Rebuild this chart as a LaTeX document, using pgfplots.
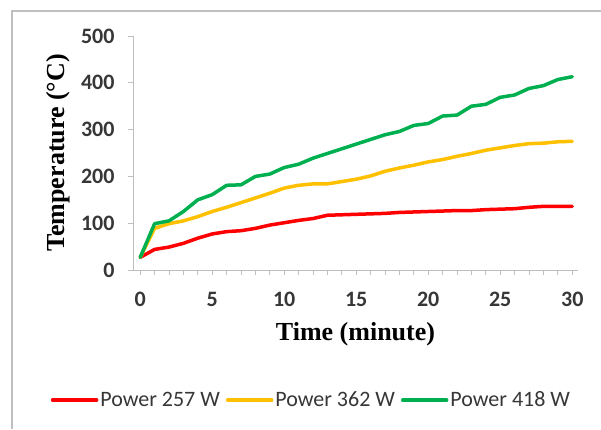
\documentclass[border=0pt]{standalone}
\usepackage{pgfplots}
\pgfplotsset{compat=1.18}
\usepackage{fontspec}
\setmainfont{Liberation Serif}
\newfontfamily\carlito{Carlito}
\definecolor{cRed}{RGB}{255,0,0}
\definecolor{cYel}{RGB}{255,192,0}
\definecolor{cGrn}{RGB}{0,176,80}
\definecolor{axgray}{RGB}{191,191,191}
\definecolor{lblgray}{RGB}{55,55,55}
\begin{document}
\begin{tikzpicture}[x=1pt,y=1pt]
\useasboundingbox (0,0) rectangle (601,429);
\fill[white] (0,0) rectangle (601,429);
\draw[axgray, line width=1.5pt] (12,0) -- (12,418) -- (601,418);
\begin{axis}[
  at={(133pt,159pt)}, anchor=south west,
  scale only axis, width=445pt, height=234pt,
  xmin=-0.5, xmax=30.4, ymin=0, ymax=500,
  axis x line=bottom, axis y line=left,
  axis line style={draw=axgray, line width=1pt, -},
  xtick={0,5,...,30}, minor xtick={0,...,30}, ytick={0,100,...,500},
  tick align=outside, major tick length=5pt, minor tick length=5pt,
  tick style={draw=axgray, line width=0.8pt},
  /pgf/number format/assume math mode=true,
  ticklabel style={font=\carlito\bfseries\fontsize{22}{22}\selectfont, text=lblgray},
  xticklabel style={yshift=-14pt},
  yticklabel style={xshift=-10pt},
  xlabel={Time (minute)},
  ylabel={Temperature (\textdegree C)},
  xlabel style={font=\bfseries\fontsize{26}{26}\selectfont, at={(axis description cs:0.5,-0.275)}, anchor=center},
  ylabel style={font=\bfseries\fontsize{26}{26}\selectfont, at={(axis description cs:-0.1674,0.5)}, anchor=center},
  legend columns=3,
  legend style={at={(axis description cs:0.401,-0.556)}, anchor=center, draw=none, fill=none,
    font=\carlito\fontsize{22}{22}\selectfont, text=lblgray, nodes={inner sep=2pt},
    /tikz/every even column/.append style={column sep=4pt}},
  legend image code/.code={\draw[#1] (0pt,0pt) -- (44pt,0pt);},
  every axis plot/.append style={line width=3.5pt, line join=round, line cap=round},
]
\addplot[cRed] coordinates {
(0,27)(1,44)(2,49)(3,57)(4,68)(5,77)(6,82)(7,84)(8,89)(9,96)(10,101)
(11,106)(12,110)(13,117)(14,118)(15,119)(16,120)(17,121)(18,123)(19,124)(20,125)
(21,126)(22,127)(23,127)(24,129)(25,130)(26,131)(27,134)(28,136)(29,136)(30,136)};
\addlegendentry{Power 257 W}
\addplot[cYel] coordinates {
(0,27)(1,89)(2,99)(3,105)(4,114)(5,125)(6,134)(7,144)(8,154)(9,164)(10,175)
(11,181)(12,184)(13,184)(14,189)(15,194)(16,201)(17,211)(18,218)(19,224)(20,231)
(21,236)(22,243)(23,249)(24,256)(25,261)(26,266)(27,270)(28,271)(29,274)(30,275)};
\addlegendentry{Power 362 W}
\addplot[cGrn] coordinates {
(0,27)(1,99)(2,105)(3,125)(4,150)(5,161)(6,181)(7,182)(8,200)(9,205)(10,219)
(11,226)(12,239)(13,249)(14,259)(15,269)(16,279)(17,289)(18,296)(19,309)(20,313)
(21,329)(22,331)(23,350)(24,354)(25,369)(26,374)(27,388)(28,394)(29,407)(30,413)};
\addlegendentry{Power 418 W}
\end{axis}
\end{tikzpicture}
\end{document}
